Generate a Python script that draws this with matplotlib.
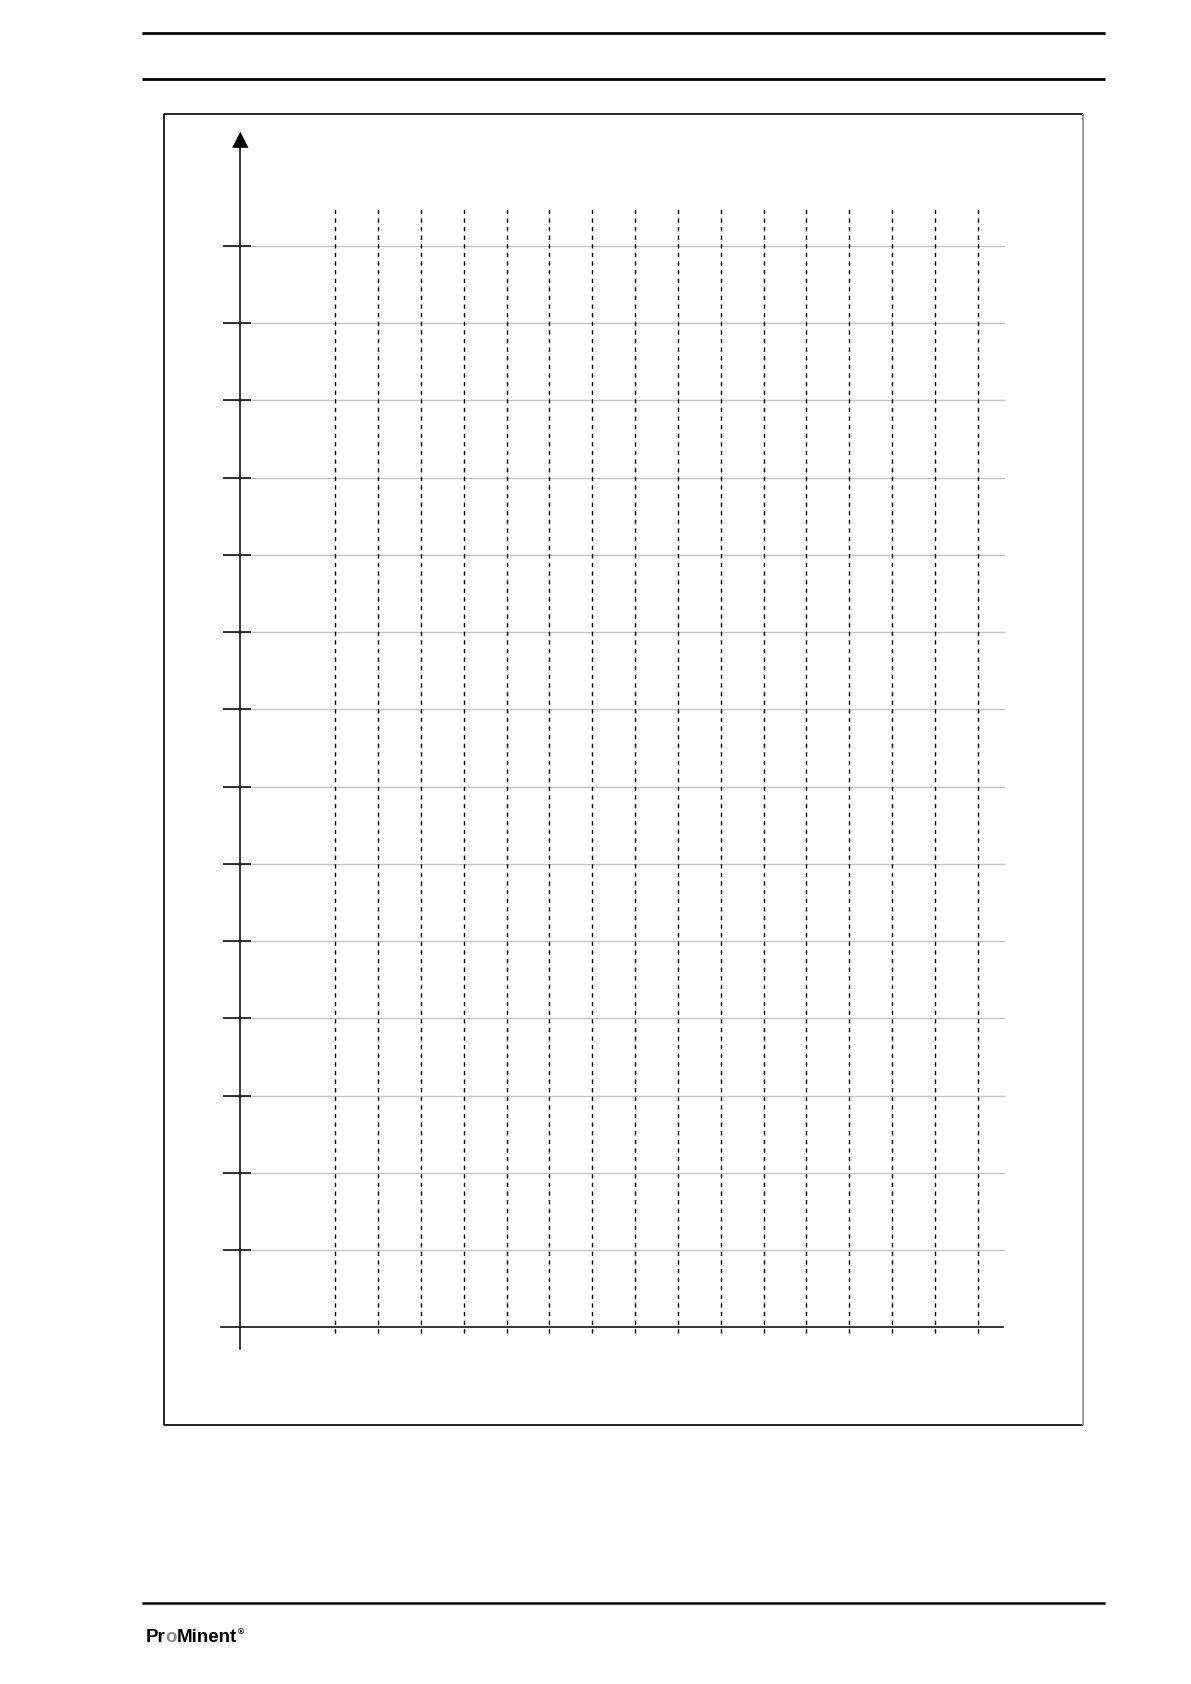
import numpy as np
import matplotlib.pyplot as plt
from matplotlib.lines import Line2D

# Blank ProMinent calibration sheet: 14 horizontal levels, 16 dashed columns
levels = np.arange(1, 15)
columns = np.arange(1, 17)
logo_parts = ["Pr", "o", "Minent", "®"]
logo_colors = ["black", "#8c8c8c", "black", "black"]

W, H = 1191, 1684
fig = plt.figure(figsize=(W / 100, H / 100), dpi=100)


def fx(px):
    return px / W


def fy(py):
    return 1 - py / H


def rule(x0, x1, y0, y1, color="black", lw=2.0):
    fig.add_artist(Line2D([fx(x0), fx(x1)], [fy(y0), fy(y1)], color=color, lw=lw,
                          solid_capstyle="butt"))


# page header / footer rules
rule(142, 1105, 32.5, 32.5, lw=2.0)
rule(142, 1105, 78.5, 78.5, lw=2.0)
rule(142, 1105, 1603, 1603, lw=1.8)

# chart frame (right edge drawn grey like the scan)
rule(164.3, 1083, 114.3, 114.3, lw=1.2)
rule(164.3, 164.3, 114.3, 1425.3, lw=1.2)
rule(164.3, 1083, 1425.3, 1425.3, lw=1.2)
rule(1083, 1083, 114.3, 1425.3, color="#9a9a9a", lw=1.4)

# chart area: whole figure, data units = one column / one level
ax = fig.add_axes([0, 0, 1, 1])
ax.set_xlim(-6.829, 20.979)
ax.set_ylim(-4.618, 17.184)
ax.set_facecolor("none")
ax.axis("off")

x_axis = -1.218  # position of the vertical axis

# horizontal grey grid lines and black ticks
ax.hlines(levels, -1.63, 16.64, colors="#c4c4c4", lw=1.0)
ax.hlines(levels, -1.63, -0.975, colors="black", lw=1.1)

# dashed columns
ax.vlines(columns, -0.075, 14.49, colors="black", lw=1.0,
          linestyles=(0, (3.1, 3.1)))

# axes
ax.plot([-1.669, 16.59], [0, 0], color="black", lw=1.1)
ax.plot([x_axis, x_axis], [-0.285, 15.3], color="black", lw=1.1)
ax.fill([x_axis - 0.19, x_axis + 0.19, x_axis], [15.27, 15.27, 15.48],
        color="black", lw=0)

# logo, pieces chained one after the other
logo_font = dict(family=["Liberation Sans", "DejaVu Sans"], fontweight="bold")
prev = fig.text(fx(146), fy(1642.5), logo_parts[0], color=logo_colors[0],
                fontsize=13.5, va="baseline", **logo_font)
for part, col in zip(logo_parts[1:], logo_colors[1:]):
    sup = part == "®"
    prev = ax.annotate(part, xy=(1, 1 if sup else 0), xycoords=prev,
                       va="top" if sup else "bottom", ha="left", color=col,
                       fontsize=6 if sup else 13.5, annotation_clip=False,
                       **logo_font)

fig.savefig("out.png", dpi=100, facecolor="white")
